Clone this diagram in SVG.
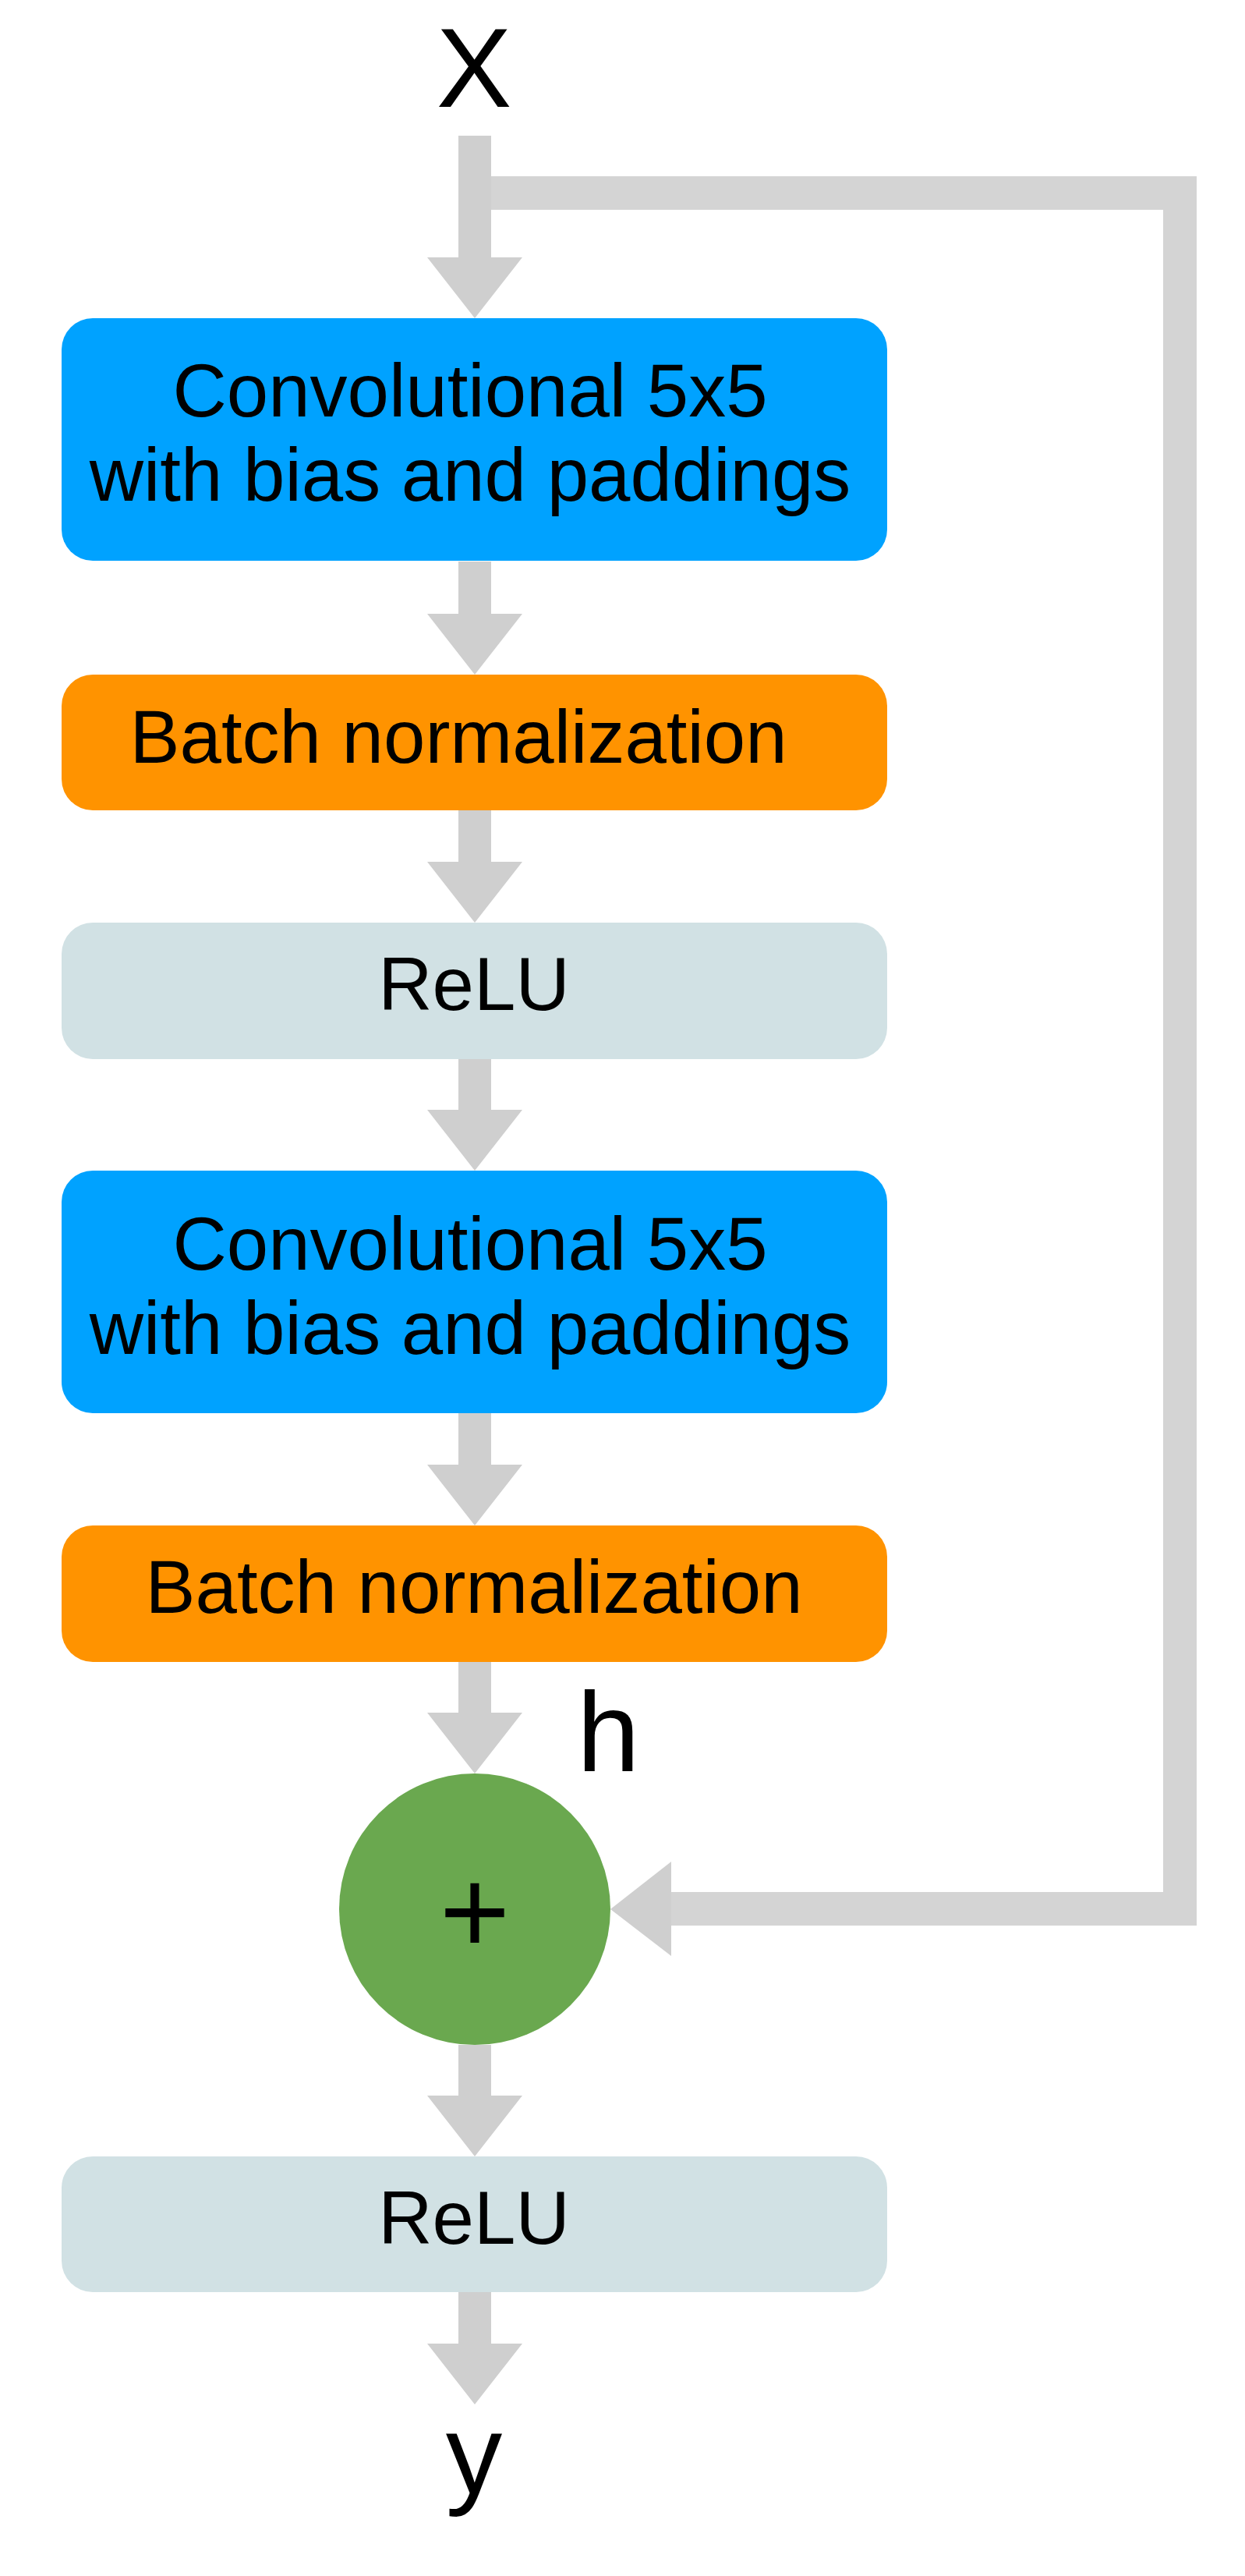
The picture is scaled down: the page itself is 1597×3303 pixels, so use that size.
<svg xmlns="http://www.w3.org/2000/svg" width="1597" height="3303" viewBox="0 0 1597 3303">
<style>
  .lbl { font-family: "Liberation Sans", Arial, Helvetica, sans-serif; fill: #000; }
  .box { font-size: 96px; text-anchor: middle; }
  .big { font-size: 145px; }
  .arrow { fill: #CFCFCF; }
  .skip { fill: none; stroke: #D4D4D4; stroke-width: 43; stroke-linejoin: miter; }
  .conv { fill: #00A2FF; }
  .bn { fill: #FF9300; }
  .relu { fill: #D1E1E4; }
  .add { fill: #6AA84F; }
</style>
<rect width="1597" height="3303" fill="#FFFFFF"/>
<g id="connectors">
  <path class="skip" d="M630,247.5 H1513.5 V2447.5 H861"/>
  <path class="arrow" d="M861,2387 V2508 L783,2448 Z"/>
  <path class="arrow" d="M588,174 H630 V330 H670 L609,408 L548,330 H588 Z"/>
  <path class="arrow" d="M588,720 H630 V787 H670 L609,865 L548,787 H588 Z"/>
  <path class="arrow" d="M588,1039 H630 V1105 H670 L609,1183 L548,1105 H588 Z"/>
  <path class="arrow" d="M588,1358 H630 V1423 H670 L609,1501 L548,1423 H588 Z"/>
  <path class="arrow" d="M588,1812 H630 V1878 H670 L609,1956 L548,1878 H588 Z"/>
  <path class="arrow" d="M588,2131 H630 V2196 H670 L609,2274 L548,2196 H588 Z"/>
  <path class="arrow" d="M588,2622 H630 V2687 H670 L609,2765 L548,2687 H588 Z"/>
  <path class="arrow" d="M588,2939 H630 V3005 H670 L609,3083 L548,3005 H588 Z"/>
</g>
<g id="input_x">
  <text class="lbl big" x="608" y="137" text-anchor="middle">X</text>
</g>
<g id="conv1">
  <rect class="conv" x="79" y="408" width="1059" height="311" rx="40" ry="40"/>
  <text class="lbl box" x="603" y="534">Convolutional 5x5</text>
  <text class="lbl box" x="603" y="642">with bias and paddings</text>
</g>
<g id="bn1">
  <rect class="bn" x="79" y="865" width="1059" height="174" rx="40" ry="40"/>
  <text class="lbl box" x="588" y="978">Batch normalization</text>
</g>
<g id="relu1">
  <rect class="relu" x="79" y="1183" width="1059" height="175" rx="40" ry="40"/>
  <text class="lbl box" x="608" y="1295">ReLU</text>
</g>
<g id="conv2">
  <rect class="conv" x="79" y="1501" width="1059" height="311" rx="40" ry="40"/>
  <text class="lbl box" x="603" y="1628">Convolutional 5x5</text>
  <text class="lbl box" x="603" y="1736">with bias and paddings</text>
</g>
<g id="bn2">
  <rect class="bn" x="79" y="1956" width="1059" height="175" rx="40" ry="40"/>
  <text class="lbl box" x="608" y="2068">Batch normalization</text>
</g>
<g id="label_h">
  <text class="lbl big" x="740" y="2271">h</text>
</g>
<g id="add">
  <circle class="add" cx="609" cy="2448" r="174"/>
  <text class="lbl" x="609" y="2505" font-size="155" text-anchor="middle">+</text>
</g>
<g id="relu2">
  <rect class="relu" x="79" y="2765" width="1059" height="174" rx="40" ry="40"/>
  <text class="lbl box" x="608" y="2877">ReLU</text>
</g>
<g id="output_y">
  <text class="lbl big" x="608" y="3197" text-anchor="middle">y</text>
</g>
</svg>
